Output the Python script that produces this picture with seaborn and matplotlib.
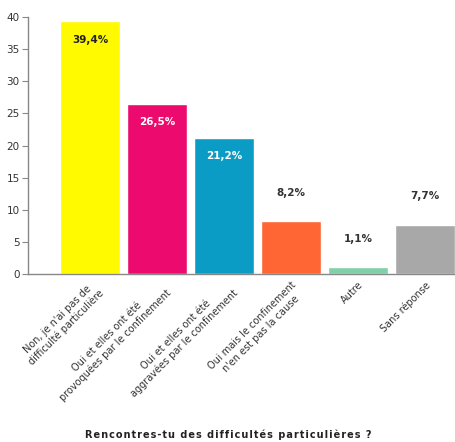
import matplotlib
matplotlib.use("Agg")
import matplotlib.pyplot as plt
import seaborn as sns
import pandas as pd

categories = [
    "Non, je n'ai pas de\ndifficulté particulière",
    "Oui et elles ont été\nprovoquées par le confinement",
    "Oui et elles ont été\naggravées par le confinement",
    "Oui mais le confinement\nn'en est pas la cause",
    "Autre",
    "Sans réponse",
]
values = [39.4, 26.5, 21.2, 8.2, 1.1, 7.7]
labels = ["39,4%", "26,5%", "21,2%", "8,2%", "1,1%", "7,7%"]
colors = ["#FFFA00", "#EC0A6E", "#0A9CC4", "#FF6633", "#80D0A8", "#A8A8A8"]
label_colors = ["#222222", "white", "white", "#333333", "#333333", "#333333"]
yticks = [0, 5, 10, 15, 20, 25, 30, 35, 40]

sns.set_style("white")
plt.rcParams["font.family"] = ["DejaVu Sans"]

df = pd.DataFrame({"cat": categories, "val": values})

fig = plt.figure(figsize=(4.56, 4.42), dpi=100)
ax = fig.add_axes([0.0614, 0.380, 0.9386, 0.5815])

sns.barplot(data=df, x="cat", y="val", hue="cat", palette=colors,
            legend=False, width=0.9, saturation=1, ax=ax)

ax.set_ylim(0, 40)
ax.set_xlim(-0.93, 5.46)
ax.set_yticks(yticks)
ax.set_yticklabels([str(t) for t in yticks], fontsize=7.5, color="#333333")
ax.tick_params(axis="y", length=4, width=0.8, color="#888888", pad=2, left=True)
ax.tick_params(axis="x", length=0, pad=4)
ax.set_xticks(range(len(categories)))
ax.set_xticklabels(categories, rotation=45, ha="right", rotation_mode="anchor",
                   fontsize=7, color="#333333", multialignment="center",
                   fontweight="medium")

for side in ("top", "right"):
    ax.spines[side].set_visible(False)
for side in ("left", "bottom"):
    ax.spines[side].set_color("#888888")
    ax.spines[side].set_linewidth(1.0)

for i, (v, lab, c) in enumerate(zip(values, labels, label_colors)):
    y = v - 2.9 if v > 15 else v + 4.4
    ax.text(i, y, lab, ha="center", va="center", fontsize=7.5,
            fontweight="bold", color=c)

ax.set_xlabel("")
ax.set_ylabel("")
title = "Rencontres-tu des difficultés particulières ?"
spaced = "\u200a".join(title).replace("\u200a \u200a", "\u2009 ")
fig.text(0.5, 0.004, spaced, ha="center", va="bottom", fontsize=7,
         fontweight="bold", color="#222222")

fig.savefig("out.png", dpi=100)
